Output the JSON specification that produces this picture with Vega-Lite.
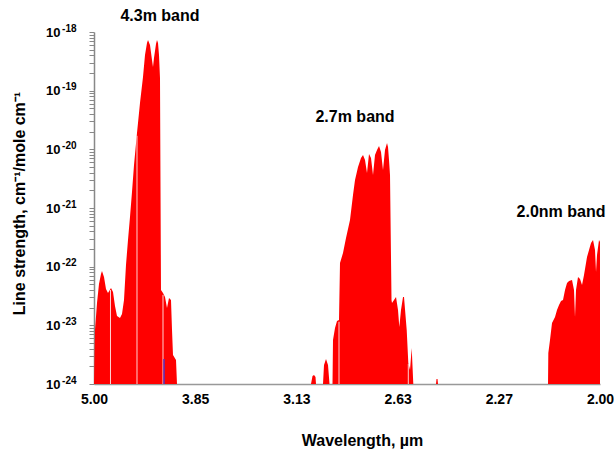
{
  "$schema": "https://vega.github.io/schema/vega-lite/v6.json",
  "width": 506,
  "height": 352,
  "autosize": {"type": "none"},
  "padding": {"left": 94, "top": 32, "right": 14, "bottom": 74},
  "background": "white",
  "config": {"view": {"stroke": null}, "font": "Liberation Sans"},
  "resolve": {"axis": {"y": "independent"}},
  "datasets": {
    "spectrum": [
      {"nu": 2000, "s": 1e-24},
      {"nu": 2005.9, "s": 8.33e-24},
      {"nu": 2017.8, "s": 2.40e-23},
      {"nu": 2029.6, "s": 5.07e-23},
      {"nu": 2041.5, "s": 7.50e-23},
      {"nu": 2047.4, "s": 8.44e-23},
      {"nu": 2059.3, "s": 6.67e-23},
      {"nu": 2071.1, "s": 4.17e-23},
      {"nu": 2083.0, "s": 3.56e-23},
      {"nu": 2100.8, "s": 4.33e-23},
      {"nu": 2112.7, "s": 3.70e-23},
      {"nu": 2124.5, "s": 2.14e-23},
      {"nu": 2136.4, "s": 1.44e-23},
      {"nu": 2154.2, "s": 1.33e-23},
      {"nu": 2166.0, "s": 1.56e-23},
      {"nu": 2177.9, "s": 2.70e-23},
      {"nu": 2189.7, "s": 1.07e-22},
      {"nu": 2201.6, "s": 2.85e-22},
      {"nu": 2213.4, "s": 7.03e-22},
      {"nu": 2225.3, "s": 1.87e-21},
      {"nu": 2237.2, "s": 5.41e-21},
      {"nu": 2254.9, "s": 1.90e-20},
      {"nu": 2272.7, "s": 6.17e-20},
      {"nu": 2290.5, "s": 1.71e-19},
      {"nu": 2302.4, "s": 4.06e-19},
      {"nu": 2314.2, "s": 6.49e-19},
      {"nu": 2320.2, "s": 7.31e-19},
      {"nu": 2332.0, "s": 6.00e-19},
      {"nu": 2343.9, "s": 3.33e-19},
      {"nu": 2349.8, "s": 2.53e-19},
      {"nu": 2355.7, "s": 3.61e-19},
      {"nu": 2367.6, "s": 6.24e-19},
      {"nu": 2373.5, "s": 7.31e-19},
      {"nu": 2379.5, "s": 6.49e-19},
      {"nu": 2385.4, "s": 4.06e-19},
      {"nu": 2391.3, "s": 1.64e-19},
      {"nu": 2397.2, "s": 4.01e-23},
      {"nu": 2409.1, "s": 3.56e-23},
      {"nu": 2421.0, "s": 3.04e-23},
      {"nu": 2432.8, "s": 1.98e-23},
      {"nu": 2444.7, "s": 2.92e-23},
      {"nu": 2456.5, "s": 2.70e-23},
      {"nu": 2462.5, "s": 8.33e-24},
      {"nu": 2468.4, "s": 3.13e-24},
      {"nu": 2486.2, "s": 2.57e-24},
      {"nu": 2492.1, "s": 1e-24},
      {"nu": 3286.6, "s": 1e-24},
      {"nu": 3295.5, "s": 1.37e-24},
      {"nu": 3304.4, "s": 1.43e-24},
      {"nu": 3313.3, "s": 1.32e-24},
      {"nu": 3316.2, "s": 1e-24},
      {"nu": 3357.7, "s": 1e-24},
      {"nu": 3363.7, "s": 2.11e-24},
      {"nu": 3375.5, "s": 2.67e-24},
      {"nu": 3387.4, "s": 2.11e-24},
      {"nu": 3396.3, "s": 1e-24},
      {"nu": 3414.1, "s": 1e-24},
      {"nu": 3417.0, "s": 5.62e-24},
      {"nu": 3428.9, "s": 9.01e-24},
      {"nu": 3440.7, "s": 1.19e-23},
      {"nu": 3452.6, "s": 1.23e-23},
      {"nu": 3458.5, "s": 1.16e-22},
      {"nu": 3476.3, "s": 1.71e-22},
      {"nu": 3494.1, "s": 3.08e-22},
      {"nu": 3517.8, "s": 6.25e-22},
      {"nu": 3535.6, "s": 1.67e-21},
      {"nu": 3547.5, "s": 3.00e-21},
      {"nu": 3565.3, "s": 5.00e-21},
      {"nu": 3583.0, "s": 7.11e-21},
      {"nu": 3594.9, "s": 8.01e-21},
      {"nu": 3606.8, "s": 6.58e-21},
      {"nu": 3618.6, "s": 3.95e-21},
      {"nu": 3630.5, "s": 8.33e-21},
      {"nu": 3642.3, "s": 7.11e-21},
      {"nu": 3654.2, "s": 3.65e-21},
      {"nu": 3666.0, "s": 8.01e-21},
      {"nu": 3677.9, "s": 9.75e-21},
      {"nu": 3689.8, "s": 1.14e-20},
      {"nu": 3701.6, "s": 9.01e-21},
      {"nu": 3713.5, "s": 4.45e-21},
      {"nu": 3725.3, "s": 9.75e-21},
      {"nu": 3737.2, "s": 1.28e-20},
      {"nu": 3743.1, "s": 1.10e-20},
      {"nu": 3749.1, "s": 6.58e-21},
      {"nu": 3755.0, "s": 3.65e-21},
      {"nu": 3763.9, "s": 2.70e-23},
      {"nu": 3766.8, "s": 2.40e-23},
      {"nu": 3778.7, "s": 2.70e-23},
      {"nu": 3790.6, "s": 3.04e-23},
      {"nu": 3802.4, "s": 1.83e-23},
      {"nu": 3810.1, "s": 9.37e-24},
      {"nu": 3820.2, "s": 1.83e-23},
      {"nu": 3832.1, "s": 3.04e-23},
      {"nu": 3838.0, "s": 3.04e-23},
      {"nu": 3854.0, "s": 8.33e-24},
      {"nu": 3863.5, "s": 2.28e-24},
      {"nu": 3873.6, "s": 1.73e-24},
      {"nu": 3883.6, "s": 4.11e-24},
      {"nu": 3893.1, "s": 1e-24},
      {"nu": 4027.7, "s": 1e-24},
      {"nu": 4030.7, "s": 1.22e-24},
      {"nu": 4036.6, "s": 1.22e-24},
      {"nu": 4039.6, "s": 1e-24},
      {"nu": 4691.8, "s": 1e-24},
      {"nu": 4693.6, "s": 3.38e-24},
      {"nu": 4703.6, "s": 5.62e-24},
      {"nu": 4715.5, "s": 1.10e-23},
      {"nu": 4733.3, "s": 1.39e-23},
      {"nu": 4745.1, "s": 1.83e-23},
      {"nu": 4757.0, "s": 2.22e-23},
      {"nu": 4768.8, "s": 2.60e-23},
      {"nu": 4780.7, "s": 2.70e-23},
      {"nu": 4792.6, "s": 4.01e-23},
      {"nu": 4804.4, "s": 5.27e-23},
      {"nu": 4816.3, "s": 5.70e-23},
      {"nu": 4834.1, "s": 5.93e-23},
      {"nu": 4845.9, "s": 4.01e-23},
      {"nu": 4851.8, "s": 1.39e-23},
      {"nu": 4857.8, "s": 4.01e-23},
      {"nu": 4869.6, "s": 6.67e-23},
      {"nu": 4881.5, "s": 6.17e-23},
      {"nu": 4893.4, "s": 4.88e-23},
      {"nu": 4905.2, "s": 7.21e-23},
      {"nu": 4923.0, "s": 1.46e-22},
      {"nu": 4934.9, "s": 1.92e-22},
      {"nu": 4946.7, "s": 2.54e-22},
      {"nu": 4958.6, "s": 2.85e-22},
      {"nu": 4970.4, "s": 1.92e-22},
      {"nu": 4976.4, "s": 8.11e-23},
      {"nu": 4982.3, "s": 1.58e-22},
      {"nu": 4994.1, "s": 2.85e-22},
      {"nu": 5000, "s": 2.64e-22}
    ],
    "gaps": [
      {"nu": 2097.8, "s": 4.0e-23},
      {"nu": 2254.9, "s": 1.7e-20},
      {"nu": 2409.1, "s": 3.3e-23},
      {"nu": 3452.6, "s": 1.15e-23},
      {"nu": 3863.5, "s": 2.2e-24}
    ],
    "marker": [
      {"nu": 2415.0, "s": 2.67e-24}
    ],
    "labels": [
      {"nu": 2391, "s": 1.91e-18, "label": "4.3m band"},
      {"nu": 3547.5, "s": 3.56e-20, "label": "2.7m band"},
      {"nu": 4768.8, "s": 8.55e-22, "label": "2.0nm band"}
    ]
  },
  "layer": [
    {
      "data": {"name": "spectrum"},
      "mark": {"type": "area", "color": "#ff0000", "interpolate": "linear", "clip": true},
      "encoding": {
        "x": {
          "field": "nu",
          "type": "quantitative",
          "scale": {"domain": [2000, 5000], "nice": false, "zero": false},
          "axis": {
            "title": "Wavelength, µm",
            "values": [2000, 2600, 3200, 3800, 4400, 5000],
            "labelExpr": "format(10000/datum.value, '.2f')",
            "ticks": false,
            "tickSize": 0,
            "grid": false,
            "labelFlush": false,
            "labelOverlap": false,
            "labelFont": "Liberation Sans",
            "labelFontSize": 14,
            "labelFontWeight": "bold",
            "labelColor": "black",
            "labelPadding": 8,
            "domainColor": "#999999",
            "domainWidth": 1.5,
            "titleFont": "Liberation Sans",
            "titleFontSize": 16,
            "titleFontWeight": "bold",
            "titleColor": "black",
            "titleX": 268,
            "titleY": 56,
            "titleBaseline": "middle",
            "titleAlign": "center"
          }
        },
        "y": {
          "field": "s",
          "type": "quantitative",
          "scale": {"type": "log", "domain": [1e-24, 1e-18], "nice": false},
          "axis": {
            "orient": "left",
            "title": "Line strength, cm⁻¹/mole cm⁻¹",
            "values": [1e-24, 2e-24, 3e-24, 4e-24, 5e-24, 6e-24, 7e-24, 8e-24, 9e-24,
                       1e-23, 2e-23, 3e-23, 4e-23, 5e-23, 6e-23, 7e-23, 8e-23, 9e-23,
                       1e-22, 2e-22, 3e-22, 4e-22, 5e-22, 6e-22, 7e-22, 8e-22, 9e-22,
                       1e-21, 2e-21, 3e-21, 4e-21, 5e-21, 6e-21, 7e-21, 8e-21, 9e-21,
                       1e-20, 2e-20, 3e-20, 4e-20, 5e-20, 6e-20, 7e-20, 8e-20, 9e-20,
                       1e-19, 2e-19, 3e-19, 4e-19, 5e-19, 6e-19, 7e-19, 8e-19, 9e-19,
                       1e-18],
            "labelExpr": "abs(log(datum.value)/LN10 - round(log(datum.value)/LN10)) < 0.01 ? '10' : ''",
            "labelOverlap": false,
            "labelBound": false,
            "grid": false,
            "tickSize": 5,
            "tickColor": "#888888",
            "tickWidth": 1,
            "domainColor": "#888888",
            "domainWidth": 1.5,
            "labelFont": "Liberation Sans",
            "labelFontSize": 13,
            "labelFontWeight": "bold",
            "labelColor": "black",
            "labelPadding": 29,
            "titleFont": "Liberation Sans",
            "titleFontSize": 16,
            "titleFontWeight": "bold",
            "titleColor": "black",
            "titleX": -75,
            "titleY": 171,
            "titleAngle": -90,
            "titleBaseline": "middle",
            "titleAlign": "center"
          }
        },
        "y2": {"datum": 1e-24}
      }
    },
    {
      "data": {"name": "gaps"},
      "mark": {"type": "rule", "color": "#ffd0d0", "strokeWidth": 1},
      "encoding": {
        "x": {"field": "nu", "type": "quantitative"},
        "y": {
          "field": "s",
          "type": "quantitative",
          "axis": {
            "orient": "left",
            "title": null,
            "values": [1e-24, 1e-23, 1e-22, 1e-21, 1e-20, 1e-19, 1e-18],
            "labelExpr": "'' + round(log(datum.value)/LN10)",
            "labelOverlap": false,
            "labelBound": false,
            "grid": false,
            "domain": false,
            "ticks": false,
            "tickSize": 0,
            "labelFont": "Liberation Sans",
            "labelFontSize": 10,
            "labelFontWeight": "bold",
            "labelColor": "black",
            "labelPadding": 18,
            "labelOffset": -4
          }
        },
        "y2": {"datum": 1e-24}
      }
    },
    {
      "data": {"name": "marker"},
      "mark": {"type": "rule", "color": "#5530c0", "strokeWidth": 1.5},
      "encoding": {
        "x": {"field": "nu", "type": "quantitative"},
        "y": {"field": "s", "type": "quantitative", "axis": null},
        "y2": {"datum": 1e-24}
      }
    },
    {
      "data": {"name": "labels"},
      "mark": {"type": "text", "fontWeight": "bold", "fontSize": 16, "font": "Liberation Sans", "baseline": "middle", "align": "center", "color": "black"},
      "encoding": {
        "x": {"field": "nu", "type": "quantitative"},
        "y": {"field": "s", "type": "quantitative", "axis": null},
        "text": {"field": "label"}
      }
    }
  ]
}
